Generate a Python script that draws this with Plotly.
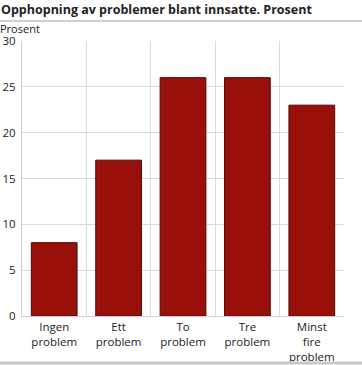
import plotly.graph_objects as go

categories = ["Ingen<br>problem", "Ett<br>problem", "To<br>problem", "Tre<br>problem", "Minst<br>fire<br>problem"]
values = [8, 17, 26, 26, 23]
y_ticks = [0, 5, 10, 15, 20, 25, 30]

font = "Open Sans, Verdana, sans-serif"
fig = go.Figure()
fig.add_trace(go.Scatter(x=[None], y=[None], xaxis="x2", showlegend=False, hoverinfo="skip"))
fig.add_trace(go.Bar(
    x=list(range(len(categories))), y=values,
    marker=dict(color="#990f0a", line=dict(color="#4d0805", width=1)),
    width=0.71,
))
fig.update_layout(
    width=362, height=365,
    margin=dict(l=22, r=18, t=41, b=49, autoexpand=False),
    plot_bgcolor="white", paper_bgcolor="white",
    showlegend=False,
    font=dict(family=font, size=11, color="#222"),
    xaxis=dict(
        range=[-0.5, len(categories) - 0.5], automargin=False,
        tickmode="array", tickvals=list(range(len(categories))), ticktext=categories,
        showgrid=False, ticks="", showline=True, linecolor="#d0d0d0", linewidth=1,
        tickfont=dict(size=11.5), zeroline=False,
    ),
    xaxis2=dict(
        overlaying="x", range=[-0.5, len(categories) - 0.5], automargin=False,
        tick0=-0.5, dtick=1, showgrid=True, gridcolor="#d9d9d9", gridwidth=1,
        showticklabels=False, ticks="", zeroline=False,
    ),
    yaxis=dict(
        range=[0, 30], tickvals=y_ticks, showgrid=True, gridcolor="#d9d9d9",
        gridwidth=1, ticks="", showline=True, linecolor="#d0d0d0", automargin=False,
        zeroline=False, tickfont=dict(size=11.5), ticklabelstandoff=3,
    ),
)
fig.add_annotation(text="<b>Opphopning av problemer blant innsatte. Prosent</b>",
                   xref="paper", yref="paper", x=-23/322, y=1 + 31/275,
                   xanchor="left", yanchor="middle", showarrow=False,
                   font=dict(size=12.5, color="#222"))
fig.add_annotation(text="Prosent", xref="paper", yref="paper", x=-24/322, y=1 + 12/275,
                   xanchor="left", yanchor="middle", showarrow=False,
                   font=dict(size=11, color="#222"))
fig.add_shape(type="line", xref="paper", yref="paper", x0=-22/322, x1=1 + 18/322,
              y0=1 + 20/275, y1=1 + 20/275, line=dict(color="#a0a0a0", width=1))
fig.add_shape(type="line", xref="paper", yref="paper", x0=-22/322, x1=1 + 18/322,
              y0=-47/275, y1=-47/275, line=dict(color="#c8c8c8", width=3))
fig.write_html("out.html", config={"displayModeBar": False},
               post_script="document.body.style.margin='0';")
